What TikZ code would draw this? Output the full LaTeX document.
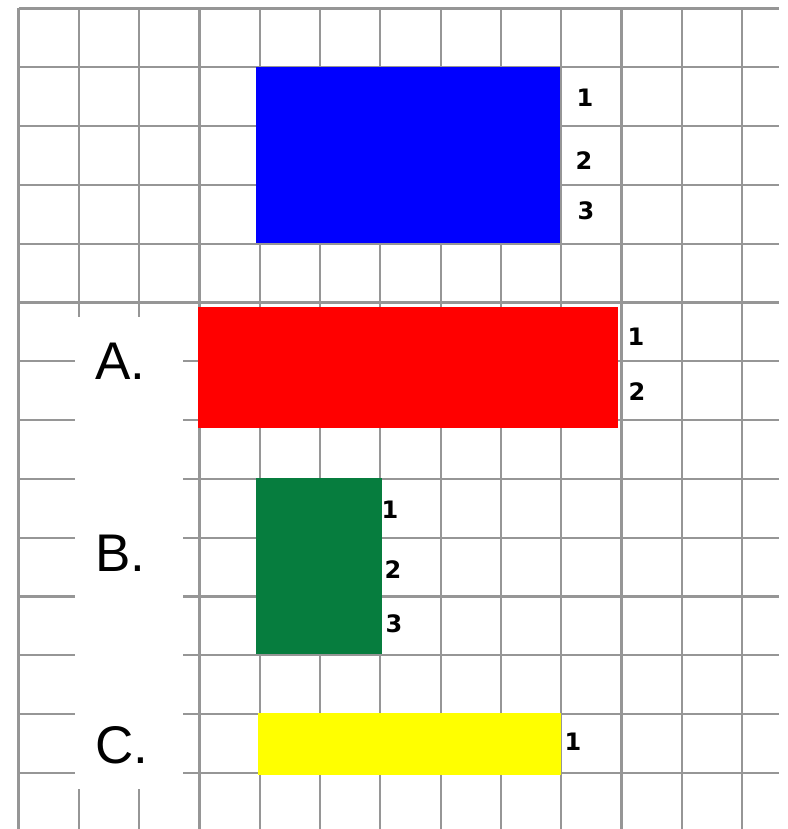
\documentclass[tikz,border=0pt]{standalone}
\usepackage{fontspec}
\setmainfont{Liberation Sans}
\newfontfamily\digitfont{DejaVu Sans}
\definecolor{gridgray}{RGB}{150,150,150}
\definecolor{sqblue}{RGB}{0,0,255}
\definecolor{sqred}{RGB}{255,0,0}
\definecolor{sqgreen}{RGB}{6,125,62}
\definecolor{sqyellow}{RGB}{255,255,0}
\begin{document}
\begin{tikzpicture}[x=1pt,y=-1pt,
  gridline/.style={draw=gridgray,line width=2.2pt},
  letterlbl/.style={anchor=base west,inner sep=0pt,font=\fontsize{53}{60}\selectfont},
  numlbl/.style={anchor=center,inner sep=0pt,font=\digitfont\bfseries\fontsize{24}{30}\selectfont}]
\useasboundingbox[fill=white] (0,0) rectangle (787,829);
% grid
\foreach \k in {0,...,12}{
  \draw[gridline] ({18.5+60.3*\k},8.5) -- ({18.5+60.3*\k},829);
}
\foreach \j in {0,...,13}{
  \draw[gridline] (18.5,{8.5+58.8*\j}) -- (779,{8.5+58.8*\j});
}
% white panel behind letters
\fill[white] (75,317) rectangle (183,789);
% rectangles
\fill[sqblue] (256,67) rectangle (560,243);
\fill[sqred] (198,307) rectangle (618,428);
\fill[sqgreen] (256,478) rectangle (381.5,654);
\fill[sqyellow] (258,713) rectangle (561,775);
% numbers
\node[numlbl] (b1) at (585,98) {1};
\node[numlbl] (b2) at (584,161) {2};
\node[numlbl] (b3) at (586,211) {3};
\node[numlbl] (r1) at (636,337) {1};
\node[numlbl] (r2) at (637,392) {2};
\node[numlbl] (g1) at (390,510) {1};
\node[numlbl] (g2) at (393,570) {2};
\node[numlbl] (g3) at (394,624) {3};
\node[numlbl] (y1) at (573,742) {1};
% letters
\node[letterlbl] (la) at (95,379) {A.};
\node[letterlbl] (lb) at (95,571) {B.};
\node[letterlbl] (lc) at (95,763) {C.};
\end{tikzpicture}
\end{document}
